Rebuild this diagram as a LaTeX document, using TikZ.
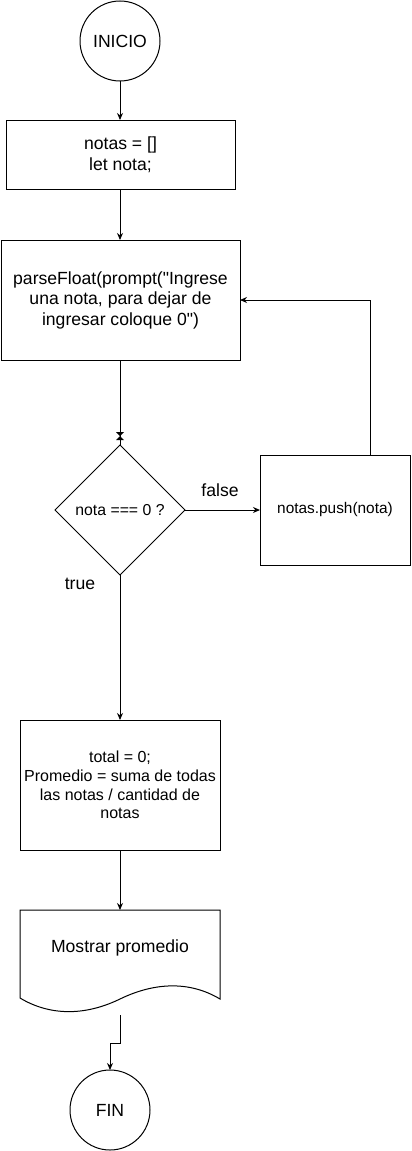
\documentclass[tikz,border=0pt]{standalone}
\usepackage{fontspec}
\setmainfont{Liberation Sans}[Ligatures=TeXOff]
\usetikzlibrary{arrows.meta,shapes.geometric}
\begin{document}
\begin{tikzpicture}[x=1pt,y=-1pt,
  every node/.style={inner sep=0pt,outer sep=0pt},
  line/.style={line width=1pt},
  arr/.style={line width=1pt,-{Stealth[length=7pt,width=6pt]}},
  big/.style={font=\fontsize{17.6}{21}\selectfont}
]
\useasboundingbox (0,0) rectangle (412,1151);
% Start
\node[draw,line width=1pt,circle,minimum size=80pt,big] (ini) at (120,41) {INICIO};
% Box 1
\node[draw,line width=1pt,minimum width=229pt,minimum height=69pt,align=center,font=\fontsize{17.6}{21}\selectfont] (b1) at (120.5,154.5) {notas = []\\let nota;};
% Box 2
\node[draw,line width=1pt,minimum width=239pt,minimum height=120pt,align=center,font=\fontsize{17.6}{20.5}\selectfont] (b2) at (120.5,300) {parseFloat(prompt("Ingrese\\una nota, para dejar de\\ingresar coloque 0")};
% Decision
\node[draw,line width=1pt,diamond,minimum width=130pt,minimum height=130pt] (d) at (120,510) {};
\node[font=\fontsize{15.8}{19}\selectfont] (dt) at (120,510) {nota === 0 ?};
% Push box
\node[draw,line width=1pt,minimum width=150pt,minimum height=110pt,align=center,font=\fontsize{15.4}{18}\selectfont] (push) at (335,510) {notas.push(nota)};
% Box 3
\node[draw,line width=1pt,minimum width=200pt,minimum height=130pt,align=center,font=\fontsize{16}{18.7}\selectfont] (b3) at (120,785) {total = 0;\\Promedio = suma de todas\\las notas / cantidad de\\notas};
% Document
\draw[line width=1pt] (20,910) -- (220,910) -- (220,999)
  .. controls (190,981) and (155,982) .. (120,999)
  .. controls (85,1016) and (50,1016) .. (20,998) -- cycle;
\coordinate (doct) at (120,910);
\coordinate (docb) at (120,1015);
\node[big] (doctext) at (120,947.5) {Mostrar promedio};
% End
\node[draw,line width=1pt,circle,minimum size=80pt,big] (fin) at (110,1110) {FIN};
% Labels
\node[big] (lf) at (220,490) {false};
\node[big] (lt) at (80,584) {true};
% Connectors
\draw[arr] (ini.south) -- (ini.south |- b1.north);
\draw[arr] (b1.south -| ini.south) -- (ini.south |- b2.north);
\draw[line] (ini.south |- b2.south) -- (d.north);
\fill (116,432) -- (124,432) -- (120,436) -- cycle;
\fill (116,440) -- (124,440) -- (120,436) -- cycle;
\draw[arr] (d.east) -- (push.west);
\coordinate (c1) at (370,300);
\draw[arr] (push.north -| c1) -- (c1) -- (b2.east);
\draw[arr] (d.south) -- (b3.north);
\draw[arr] (b3.south) -- (doct);
\coordinate (k1) at (120,1043);
\coordinate (k2) at (110,1043);
\draw[arr] (docb) -- (k1) -- (k2) -- (fin.north);
\end{tikzpicture}
\end{document}
